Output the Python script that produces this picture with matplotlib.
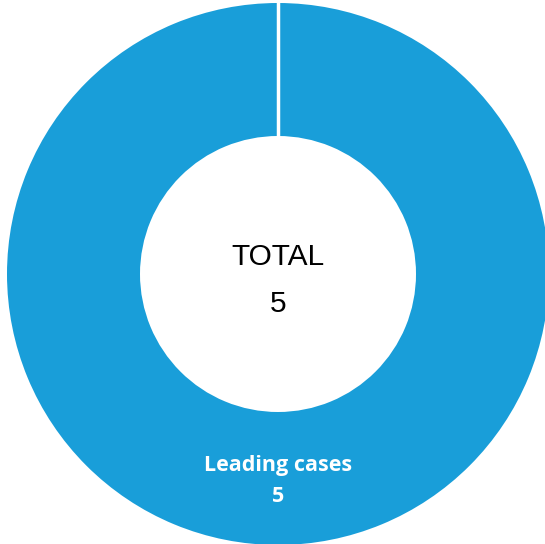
import matplotlib
matplotlib.use("Agg")
import matplotlib.pyplot as plt

# Datos
categorias = ["Leading cases"]
valores = [5]
total = sum(valores)

AZUL = "#199ed9"
W, H = 545, 544

fig = plt.figure(figsize=(W / 100, H / 100), dpi=100)
ax = fig.add_axes([0, 0, 1, 1])

cx, cy = 278, H - 274
r_ext, r_int = 271, 138

ax.pie(valores, colors=[AZUL], startangle=90, counterclock=False,
       center=(cx, cy), radius=r_ext, frame=True,
       wedgeprops=dict(width=r_ext - r_int, linewidth=0))

# Separador blanco al inicio del segmento (arriba)
ax.plot([cx, cx], [cy + r_int - 2, cy + r_ext + 2], color="white",
        linewidth=2.5, solid_capstyle="butt")

ax.set_xlim(0, W)
ax.set_ylim(0, H)
ax.set_aspect("equal")
ax.axis("off")

# Texto central
ax.text(cx, H - 257, "TOTAL", ha="center", va="center", fontsize=21.5,
        family="Liberation Sans", color="black")
ax.text(cx, H - 304, f"{total}", ha="center", va="center", fontsize=21.5,
        family="Liberation Sans", color="black")

# Etiqueta del segmento
ax.text(cx, H - 465, categorias[0], ha="center", va="center", fontsize=15.5,
        family="Open Sans", fontweight="bold", color="white")
ax.text(cx, H - 497, f"{valores[0]}", ha="center", va="center", fontsize=15.5,
        family="Open Sans", fontweight="bold", color="white")

fig.savefig("out.png", dpi=100)
